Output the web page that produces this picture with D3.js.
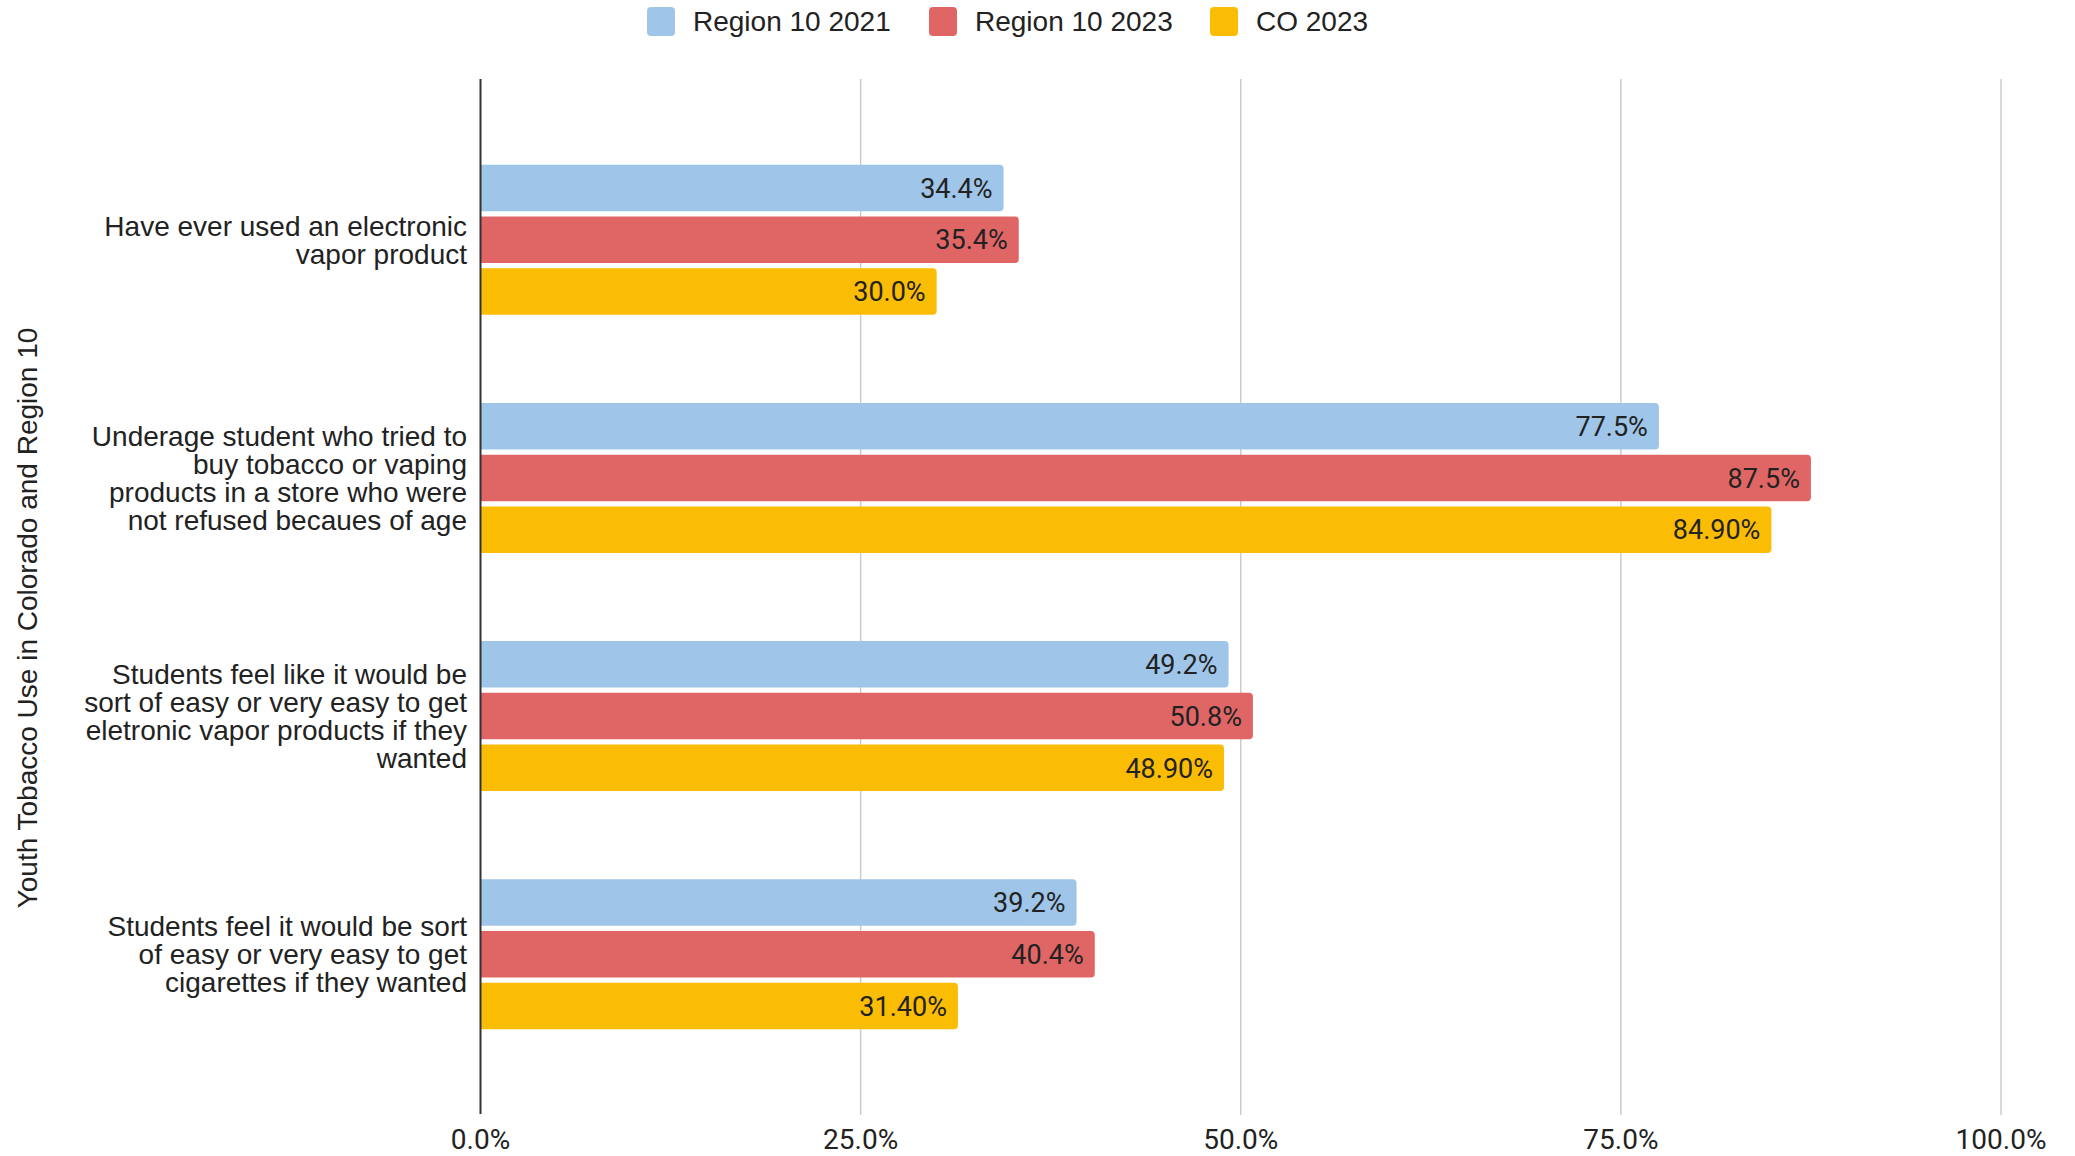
<!DOCTYPE html>
<html>
<head>
<meta charset="utf-8">
<script src="https://cdn.jsdelivr.net/npm/d3@7"></script>
<style>
  html, body { margin: 0; padding: 0; background: #ffffff; }
  svg { display: block; }
</style>
</head>
<body>
<svg id="chart" width="2075" height="1156"></svg>
<script>
// ---- data ----
const categories = [
  ["Have ever used an electronic", "vapor product"],
  ["Underage student who tried to", "buy tobacco or vaping", "products in a store who were", "not refused becaues of age"],
  ["Students feel like it would be", "sort of easy or very easy to get", "eletronic vapor products if they", "wanted"],
  ["Students feel it would be sort", "of easy or very easy to get", "cigarettes if they wanted"]
];
const seriesNames = ["Region 10 2021", "Region 10 2023", "CO 2023"];
const region10_2021 = [34.4, 77.5, 49.2, 39.2];
const region10_2023 = [35.4, 87.5, 50.8, 40.4];
const co2023 = [30.0, 84.9, 48.9, 31.4];
const valueLabels2021 = ["34.4%", "77.5%", "49.2%", "39.2%"];
const valueLabels2023 = ["35.4%", "87.5%", "50.8%", "40.4%"];
const valueLabelsCO = ["30.0%", "84.90%", "48.90%", "31.40%"];
const xTicks = [0, 25, 50, 75, 100];
const xTickLabels = ["0.0%", "25.0%", "50.0%", "75.0%", "100.0%"];
const yAxisTitle = "Youth Tobacco Use in Colorado and Region 10";

// ---- styles ----
const colors = ["#9fc5e8", "#e06666", "#fbbc04"];
const catFont = "'Liberation Sans', Arial, sans-serif";
const numFont = "Roboto, 'Liberation Sans', sans-serif";

const seriesValues = [region10_2021, region10_2023, co2023];
const seriesLabels = [valueLabels2021, valueLabels2023, valueLabelsCO];

const svg = d3.select("#chart");

const plotLeft = 480.5, plotRight = 2001, plotTop = 79, plotBottom = 1115;

const x = d3.scaleLinear().domain([0, 100]).range([plotLeft, plotRight]);
const y0 = d3.scaleBand().domain(d3.range(categories.length))
  .range([plotTop, plotBottom]).paddingInner(0.37).paddingOuter(0.36);
const y1 = d3.scaleBand().domain(d3.range(seriesNames.length))
  .range([0, y0.bandwidth()]).paddingInner(0.1).paddingOuter(0);

// gridlines
svg.append("g").selectAll("line")
  .data(xTicks.filter(t => t > 0))
  .join("line")
  .attr("x1", d => x(d)).attr("x2", d => x(d))
  .attr("y1", plotTop).attr("y2", plotBottom)
  .attr("stroke", "#cccccc").attr("stroke-width", 1.5);

// tick labels
svg.append("g").selectAll("text")
  .data(xTicks)
  .join("text")
  .attr("x", d => x(d)).attr("y", 1149)
  .attr("text-anchor", "middle")
  .attr("font-family", numFont).attr("font-size", 28)
  .attr("fill", "#222222")
  .text((d, i) => xTickLabels[i]);

// bars
function barPath(x0, x1, yTop, h, r) {
  r = Math.min(r, (x1 - x0) / 2, h / 2);
  return `M${x0},${yTop}H${x1 - r}Q${x1},${yTop} ${x1},${yTop + r}V${yTop + h - r}Q${x1},${yTop + h} ${x1 - r},${yTop + h}H${x0}Z`;
}

const barData = [];
categories.forEach((c, ci) => {
  seriesNames.forEach((s, si) => {
    barData.push({ ci, si, v: seriesValues[si][ci], label: seriesLabels[si][ci] });
  });
});

const bars = svg.append("g");
bars.selectAll("path")
  .data(barData)
  .join("path")
  .attr("d", d => barPath(x(0), x(d.v), y0(d.ci) + y1(d.si), y1.bandwidth(), 4))
  .attr("fill", d => colors[d.si]);

bars.selectAll("text")
  .data(barData)
  .join("text")
  .attr("x", d => x(d.v) - 11)
  .attr("y", d => y0(d.ci) + y1(d.si) + y1.bandwidth() / 2)
  .attr("dy", "0.36em")
  .attr("text-anchor", "end")
  .attr("font-family", numFont).attr("font-size", 27)
  .attr("fill", "#222222")
  .text(d => d.label);

// axis line
svg.append("line")
  .attr("x1", plotLeft).attr("x2", plotLeft)
  .attr("y1", plotTop).attr("y2", plotBottom - 1)
  .attr("stroke", "#333333").attr("stroke-width", 2);

// category labels
const lineH = 28;
const catG = svg.append("g");
categories.forEach((lines, ci) => {
  const cy = y0(ci) + y0.bandwidth() / 2;
  const startY = cy - (lines.length - 1) * lineH / 2;
  const t = catG.append("text")
    .attr("text-anchor", "end")
    .attr("font-family", catFont).attr("font-size", 28)
    .attr("fill", "#222222");
  lines.forEach((ln, li) => {
    t.append("tspan")
      .attr("x", 467)
      .attr("y", startY + li * lineH)
      .attr("dy", "0.36em")
      .text(ln);
  });
});

// y axis title
svg.append("text")
  .attr("transform", "translate(27,618) rotate(-90)")
  .attr("text-anchor", "middle")
  .attr("dy", "0.36em")
  .attr("font-family", catFont).attr("font-size", 28)
  .attr("fill", "#222222")
  .text(yAxisTitle);

// legend
const legendItems = [
  { name: seriesNames[0], sx: 647, tx: 693 },
  { name: seriesNames[1], sx: 929, tx: 975 },
  { name: seriesNames[2], sx: 1210, tx: 1256 }
];
const lg = svg.append("g");
legendItems.forEach((it, i) => {
  lg.append("rect")
    .attr("x", it.sx).attr("y", 7).attr("width", 28).attr("height", 29)
    .attr("rx", 4).attr("fill", colors[i]);
  lg.append("text")
    .attr("x", it.tx).attr("y", 21).attr("dy", "0.36em")
    .attr("font-family", catFont).attr("font-size", 28)
    .attr("fill", "#222222")
    .text(it.name);
});
</script>
</body>
</html>
